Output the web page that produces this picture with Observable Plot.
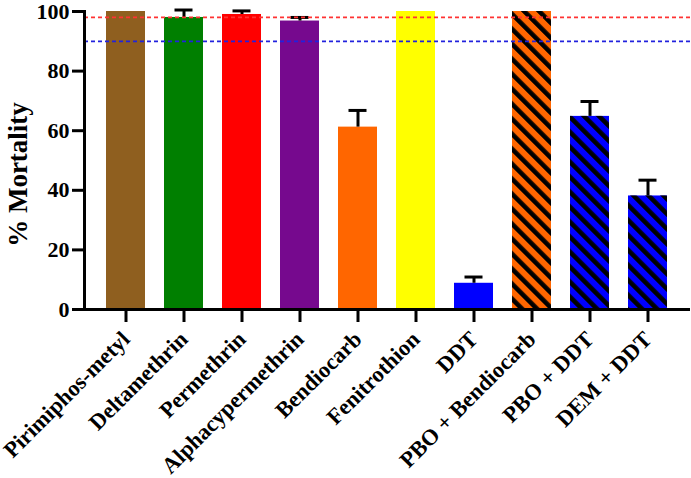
<!DOCTYPE html>
<html>
<head>
<meta charset="utf-8">
<script src="https://cdn.jsdelivr.net/npm/d3@7"></script>
<script src="https://cdn.jsdelivr.net/npm/@observablehq/plot@0.6"></script>
<style>
  html, body { margin: 0; padding: 0; background: #fff; }
  #chart svg { display: block; }
</style>
</head>
<body>
<div id="chart"></div>
<script>
const categories = ["Pirimiphos-metyl", "Deltamethrin", "Permethrin", "Alphacypermethrin", "Bendiocarb", "Fenitrothion", "DDT", "PBO + Bendiocarb", "PBO + DDT", "DEM + DDT"];
const mortality = [100, 98, 99, 96.8, 61.2, 100, 8.8, 100, 64.8, 38.1];
const errors = [0, 2.5, 1.2, 1.2, 5.6, 0, 2.1, 0, 5, 5.3];
const barColors = ["#8F5F1F", "#007F00", "#FF0000", "#76098E", "#FF6600", "#FFFF00", "#0000FF", "#FF6600", "#0000FF", "#0000FF"];
const hatched = [false, false, false, false, false, false, false, true, true, true];
const yTicks = [0, 20, 40, 60, 80, 100];
const thresholds = [98, 90];
const thresholdColors = ["#FF3333", "#2222DD"];
const yLabel = "% Mortality";

const rows = categories.map((c, i) => ({
  name: c, value: mortality[i], err: errors[i], color: barColors[i], hatch: hatched[i]
}));
const errRows = rows.filter(d => d.err > 0);
const hatchRows = rows.filter(d => d.hatch);
const thrRows = thresholds.map((v, i) => ({v, color: thresholdColors[i]}));

const font = "'Liberation Serif', 'Times New Roman', serif";

const plot = Plot.plot({
  width: 691,
  height: 478,
  marginLeft: 84,
  marginRight: 1,
  marginTop: 11,
  marginBottom: 169,
  style: {fontFamily: font, fontWeight: "bold", fontSize: "22px", color: "#000", background: "#fff", overflow: "visible"},
  x: {domain: categories, range: [94, 679], paddingInner: 0.33, paddingOuter: 0.165, label: null},
  y: {domain: [0, 100], label: null},
  color: {type: "identity"},
  marks: [
    Plot.barY(rows, {x: "name", y: "value", fill: "color"}),
    Plot.barY(hatchRows, {x: "name", y: "value", fill: "url(#hatch)"}),
    Plot.ruleX(errRows, {x: "name", y1: "value", y2: d => d.value + d.err, stroke: "#000", strokeWidth: 3}),
    Plot.tickY(errRows, {x: "name", y: d => d.value + d.err, stroke: "#000", strokeWidth: 3, insetLeft: 10.5, insetRight: 10.5}),
    Plot.ruleY(thrRows, {y: "v", stroke: "color", strokeWidth: 1.8, strokeDasharray: "4,3"}),
    Plot.ruleY([0], {stroke: "#000", strokeWidth: 3, insetLeft: -12}),
    Plot.frame({anchor: "left", stroke: "#000", strokeWidth: 3}),
    Plot.axisY({ticks: yTicks, tickSize: 12, tickPadding: 3, strokeWidth: 3, fontSize: 22, label: null}),
    Plot.axisX({tickSize: 13, tickPadding: 13, tickRotate: -45, strokeWidth: 3, fontSize: 22.5, label: null}),
    Plot.text([yLabel], {text: d => d, frameAnchor: "left", textAnchor: "middle", rotate: -90, dx: -66, dy: 14, fontSize: 27, fontWeight: "bold"})
  ]
});

// hatch pattern definition
const svg = d3.select(plot);
const defs = svg.insert("defs", ":first-child");
const pat = defs.append("pattern")
  .attr("id", "hatch")
  .attr("patternUnits", "userSpaceOnUse")
  .attr("width", 10.6)
  .attr("height", 10.6)
  .attr("patternTransform", "rotate(-45)");
pat.append("rect").attr("x", 0).attr("y", 0).attr("width", 4.6).attr("height", 10.6).attr("fill", "#000");

document.getElementById("chart").append(plot);
</script>
</body>
</html>
